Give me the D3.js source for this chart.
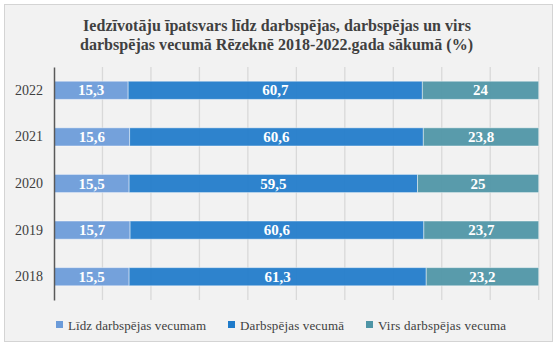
<!DOCTYPE html>
<html><head><meta charset="utf-8">
<script src="https://cdn.jsdelivr.net/npm/d3@7"></script>
<style>body{margin:0;background:#fff}svg{display:block}
svg text{font-family:"Liberation Serif","Times New Roman",serif !important}</style>
</head><body>
<svg id="c" width="560" height="349"></svg>
<script>
const years = ["2022","2021","2020","2019","2018"];
const belowAge = [15.3,15.6,15.5,15.7,15.5];
const workingAge = [60.7,60.6,59.5,60.6,61.3];
const aboveAge = [24,23.8,25,23.7,23.2];
const seriesNames = ["Līdz darbspējas vecumam","Darbspējas vecumā","Virs darbspējas vecuma"];
const colors = ["#6B9BD9","#1F7BCA","#4E95A6"];
const xTicks = [0,10,20,30,40,50,60,70,80,90,100];
const titleLines = ["Iedzīvotāju īpatsvars līdz darbspējas, darbspējas un virs","darbspējas vecumā Rēzeknē 2018-2022.gada sākumā (%)"];

const svg = d3.select("#c");
svg.append("rect").attr("x",4.5).attr("y",4.5).attr("width",548).attr("height",337)
  .attr("fill","#F2F2F2").attr("stroke","#D4D4D4");

// title
const tl = [{x0:83,x1:471,y:31},{x0:80,x1:473,y:50}];
titleLines.forEach((t,i)=>{
  svg.append("text").attr("x",tl[i].x0).attr("y",tl[i].y)
    .attr("textLength",tl[i].x1-tl[i].x0).attr("lengthAdjust","spacing")
    .style("font-weight","bold").style("font-size","16px")
    .attr("fill","#404040").text(t);
});

const x = d3.scaleLinear().domain([0,100]).range([54,538.7]);
const y = d3.scaleBand().domain(years).range([67,300]).paddingInner(0.61).paddingOuter(0.305);

// gridlines
svg.append("g").selectAll("line").data(xTicks.slice(1)).join("line")
  .attr("x1",d=>x(d)).attr("x2",d=>x(d)).attr("y1",67).attr("y2",300)
  .attr("stroke","#D9D9D9").attr("stroke-width",1.3);

const stackData = years.map((yr,i)=>({year:yr, "0":belowAge[i], "1":workingAge[i], "2":aboveAge[i]}));
const stack = d3.stack().keys(["0","1","2"])(stackData);

const fmt = v => String(v).replace(".",",");
stack.forEach((s,si)=>{
  const g = svg.append("g");
  g.selectAll("rect").data(s).join("rect")
    .attr("x",d=>x(d[0])).attr("width",d=>x(d[1])-x(d[0]))
    .attr("y",d=>y(d.data.year)).attr("height",y.bandwidth())
    .attr("fill",colors[si]).attr("fill-opacity",0.93)
    .attr("stroke","#ffffff").attr("stroke-opacity",0.45).attr("stroke-width",1);
  g.selectAll("text").data(s).join("text")
    .attr("x",d=>(x(d[0])+x(d[1]))/2).attr("y",d=>y(d.data.year)+y.bandwidth()/2+5)
    .attr("text-anchor","middle").style("font-weight","bold")
    .style("font-size","15px").attr("fill","#ffffff")
    .text(d=>fmt(d.data[String(si)]));
});

// y axis
const yAxis = d3.axisLeft(y).tickSize(0).tickPadding(11);
const ga = svg.append("g").attr("transform","translate(54,0)").call(yAxis);
ga.select(".domain").attr("stroke","#595959").attr("stroke-width",1.5);
ga.selectAll("text").style("font-size","14px").attr("fill","#404040");

// legend
const leg = [{sx:56,tx:68,tx1:206},{sx:228,tx:240,tx1:344},{sx:366,tx:378,tx1:506}];
seriesNames.forEach((n,i)=>{
  svg.append("rect").attr("x",leg[i].sx).attr("y",321).attr("width",7).attr("height",7).attr("fill",colors[i]);
  svg.append("text").attr("x",leg[i].tx).attr("y",329.5)
    .attr("textLength",leg[i].tx1-leg[i].tx).attr("lengthAdjust","spacing")
    .style("font-size","13px").attr("fill","#404040").text(n);
});
</script>
</body></html>
